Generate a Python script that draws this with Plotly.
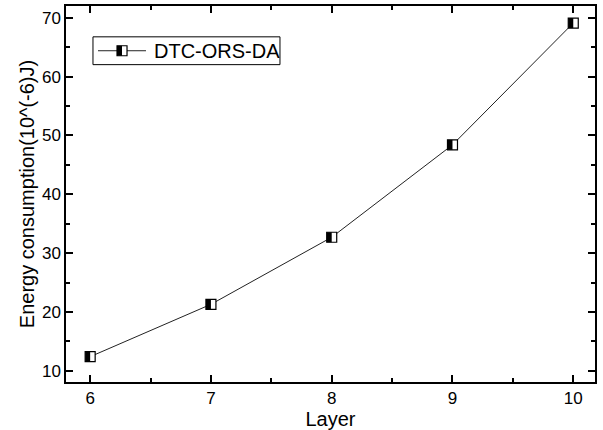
import plotly.graph_objects as go

layers = [6, 7, 8, 9, 10]
energy = [12.4, 21.3, 32.7, 48.4, 69.1]
series_name = "DTC-ORS-DA"
x_title = "Layer"
y_title = "Energy consumption(10^(-6)J)"
x_ticks = [6, 7, 8, 9, 10]
y_ticks = [10, 20, 30, 40, 50, 60, 70]

FONT = "Liberation Sans, Arial, sans-serif"
MSIZE = 10

fig = go.Figure()
fig.add_trace(go.Scatter(
    x=layers, y=energy, mode="lines+markers", name=series_name,
    line=dict(color="#222222", width=1),
    marker=dict(symbol="square", size=MSIZE, color="white",
                line=dict(color="black", width=1.2)),
    showlegend=False,
))

# left half of each marker filled black
for xv, yv in zip(layers, energy):
    fig.add_shape(type="rect", xref="x", yref="y",
                  xsizemode="pixel", ysizemode="pixel",
                  xanchor=xv, yanchor=yv,
                  x0=-MSIZE / 2, x1=0, y0=-MSIZE / 2, y1=MSIZE / 2,
                  fillcolor="black", line=dict(width=0), layer="above")

# legend (drawn to match the half-filled marker style)
LX0, LX1, LY0, LY1 = 0.051, 0.4045, 0.844, 0.918
LYC = (LY0 + LY1) / 2
fig.add_shape(type="rect", xref="paper", yref="paper",
              x0=LX0, x1=LX1, y0=LY0, y1=LY1,
              line=dict(color="black", width=1), fillcolor="white", layer="above")
fig.add_shape(type="line", xref="paper", yref="paper",
              x0=0.0605, x1=0.1512, y0=LYC, y1=LYC,
              line=dict(color="#222222", width=1), layer="above")
fig.add_shape(type="rect", xref="paper", yref="paper",
              xsizemode="pixel", ysizemode="pixel", xanchor=0.1059, yanchor=LYC,
              x0=-MSIZE / 2, x1=MSIZE / 2, y0=-MSIZE / 2, y1=MSIZE / 2,
              fillcolor="white", line=dict(color="black", width=1.2), layer="above")
fig.add_shape(type="rect", xref="paper", yref="paper",
              xsizemode="pixel", ysizemode="pixel", xanchor=0.1059, yanchor=LYC,
              x0=-MSIZE / 2, x1=0, y0=-MSIZE / 2, y1=MSIZE / 2,
              fillcolor="black", line=dict(width=0), layer="above")
fig.add_annotation(x=0.1626, y=LYC, xref="paper", yref="paper",
                   xanchor="left", yanchor="middle", showarrow=False,
                   text=series_name,
                   font=dict(family=FONT, size=20, color="black"))

axis_common = dict(
    showgrid=False, zeroline=False, showline=True, linecolor="black",
    linewidth=1.5, mirror="ticks", ticks="inside", ticklen=7, tickwidth=1.5,
    tickcolor="black", tickfont=dict(family=FONT, size=17, color="black"),
    minor=dict(ticks="inside", ticklen=4, tickwidth=1.5, tickcolor="black"),
)

fig.update_xaxes(range=[5.8, 10.18], tickvals=x_ticks,
                 minor_dtick=0.5,
                 title=dict(text=x_title, font=dict(family=FONT, size=20, color="black"), standoff=1),
                 **axis_common)
fig.update_yaxes(range=[8.1, 72], tickvals=y_ticks,
                 minor_dtick=5,
                 title=dict(text=y_title, font=dict(family=FONT, size=20, color="black"), standoff=2),
                 **axis_common)

fig.update_layout(
    width=603, height=430,
    margin=dict(l=66, r=8, t=4, b=48),
    plot_bgcolor="white", paper_bgcolor="white",
    font=dict(family=FONT, color="black"),
    showlegend=False,
)

fig.write_html("out.html")
